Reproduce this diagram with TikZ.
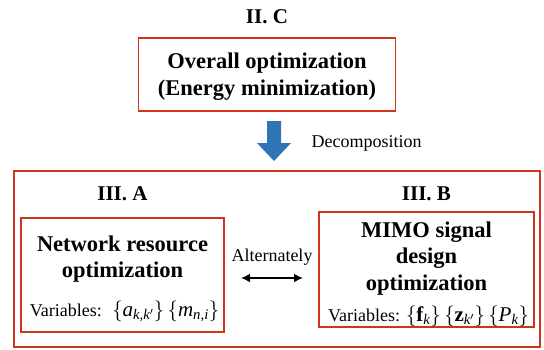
\documentclass[tikz,border=0pt]{standalone}
\usepackage{amsmath,amssymb}
\usepackage{fontspec}
\setmainfont{Liberation Serif}
\DeclareSymbolFont{letters}{TU}{\rmdefault}{m}{it}
\mathcode`\,="612C
\usepackage{tikz}
\usetikzlibrary{positioning,arrows.meta}

\definecolor{boxred}{RGB}{208,52,28}
\definecolor{decblue}{RGB}{46,117,182}

\newcommand{\bigmath}[1]{{\fontsize{21}{24}\selectfont$#1$}}

\begin{document}
\begin{tikzpicture}[x=1pt,y=-1pt]
 \tikzstyle{every path}=[thick]
 \useasboundingbox (0,0) rectangle (544,349);

\tikzstyle{redbox}=[draw=boxred,line width=1.8pt,inner sep=0pt]
\tikzstyle{head}=[font=\fontsize{21}{25}\selectfont\bfseries]
\tikzstyle{boxtitle}=[align=center,font=\fontsize{22.5}{26.5}\selectfont\bfseries]
\tikzstyle{vars}=[font=\fontsize{18}{21}\selectfont,inner sep=0pt]
\tikzstyle{plain}=[font=\fontsize{18}{21}\selectfont]

%% Overall problem
\node [redbox,minimum width=257pt,minimum height=73pt] (overall) at (267,74.5) {};
\node [boxtitle] (overalltxt) at (267,76.5) {Overall optimization\\(Energy minimization)};
\node [head,above=10pt of overall] (secC) {II. C};

%% Decomposition arrow
\fill [decblue] (267,121) -- (281,121) -- (281,143) -- (291,143) -- (274,161)
   -- (257,143) -- (267,143) -- cycle;
\node [plain,anchor=west] (decomp) at (308,143) {Decomposition};

%% Decomposed problems
\node [redbox,line width=2pt,minimum width=526pt,minimum height=176pt] (outer) at (277,259) {};

\node [redbox,minimum width=203pt,minimum height=114pt] (netbox) at (122.5,275) {};
\node [boxtitle] (nettxt) at (122.5,259) {Network resource\\optimization};
\node [vars] (netvars) at (124.5,311) {Variables:~ \bigmath{\{a_{k,k'}\}\,\{m_{n,i}\}}};
\node [head,above=13pt of netbox] (secA) {III. A};

\node [redbox,minimum width=215pt,minimum height=115pt] (mimobox) at (426.5,269.5) {};
\node [boxtitle] (mimotxt) at (426.5,258.5) {MIMO signal\\design\\optimization};
\node [vars] (mimovars) at (428.5,316) {Variables: \bigmath{\{\mathbf{f}_k\}\,\{\mathbf{z}_{k'}\}\,\{P_k\}}};
\node [head,above=7pt of mimobox] (secB) {III. B};

%% Alternating between the two
\node [plain] (alt) at (272,257) {Alternately};
\coordinate (altL) at (241,278);
\coordinate (altR) at (303,278);
\draw [{Latex[length=9pt,width=9pt]}-{Latex[length=9pt,width=9pt]},line width=2.2pt] (altL) -- (altR);

\end{tikzpicture}
\end{document}
